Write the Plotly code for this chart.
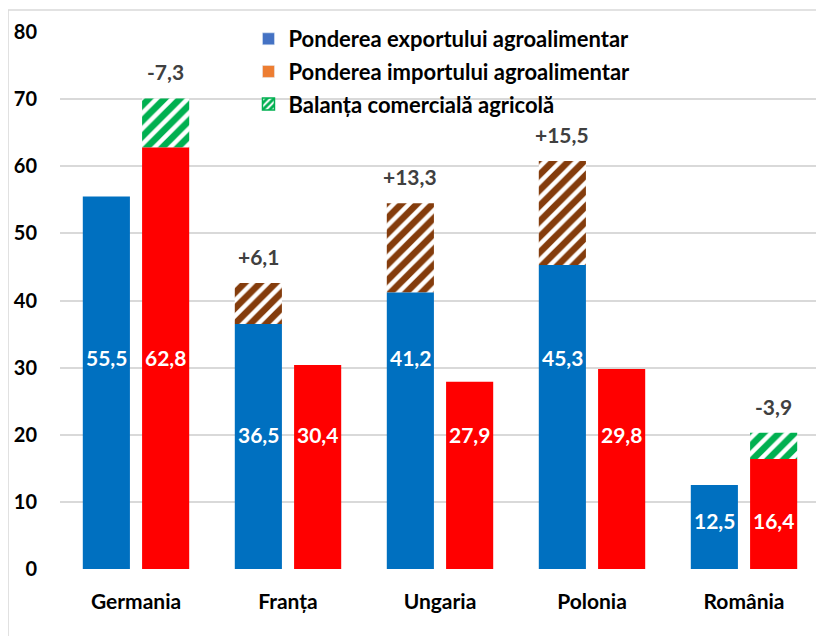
import plotly.graph_objects as go

categories = ["Germania", "Franța", "Ungaria", "Polonia", "România"]
export_share = [55.5, 36.5, 41.2, 45.3, 12.5]
import_share = [62.8, 30.4, 27.9, 29.8, 16.4]
balance = [-7.3, 6.1, 13.3, 15.5, -3.9]
y_ticks = [0, 10, 20, 30, 40, 50, 60, 70, 80]

# label heights (layout only)
export_label_y = [31.5, 20, 31.5, 31.5, 7.3]
import_label_y = [31.5, 20, 20, 20, 7.3]

BLUE = "#0070C0"
RED = "#FF0000"
GREEN = "#00B050"
BROWN = "#843C0C"
FONT = "Lato"

def fmt(v, sign=False):
    s = f"{v:+.1f}" if sign else f"{v:.1f}"
    return s.replace(".", ",")

x = list(range(len(categories)))
EXP_OFF, IMP_OFF, W = -0.35, 0.04, 0.31

fig = go.Figure()

# Balance bars (hatched): positive stacks on export, negative stacks on import
bal_x, bal_base, bal_h, bal_col, bal_off = [], [], [], [], []
for i, b in enumerate(balance):
    if b >= 0:
        bal_base.append(export_share[i]); bal_h.append(b); bal_col.append(BROWN); bal_off.append(EXP_OFF)
    else:
        bal_base.append(import_share[i]); bal_h.append(-b); bal_col.append(GREEN); bal_off.append(IMP_OFF)
    bal_x.append(i)

fig.add_trace(go.Bar(
    x=bal_x, y=bal_h, base=bal_base, offset=bal_off, width=W,
    marker=dict(color="white", line=dict(width=0),
                pattern=dict(shape="/", fgcolor=bal_col, fgopacity=1, bgcolor="white",
                             size=11, solidity=0.6)),
    showlegend=False, hoverinfo="skip"))

fig.add_trace(go.Bar(x=x, y=export_share, offset=EXP_OFF, width=W,
                     marker=dict(color=BLUE, line=dict(width=0)), showlegend=False))
fig.add_trace(go.Bar(x=x, y=import_share, offset=IMP_OFF, width=W,
                     marker=dict(color=RED, line=dict(width=0)), showlegend=False))

# Legend-only entries
fig.add_trace(go.Bar(x=[None], y=[None], name="Ponderea exportului agroalimentar",
                     marker=dict(color="#4472C4"), legendgroup="a"))
fig.add_trace(go.Bar(x=[None], y=[None], name="Ponderea importului agroalimentar",
                     marker=dict(color="#ED7D31"), legendgroup="b"))
fig.add_trace(go.Bar(x=[None], y=[None], name="Balanța comercială agricolă",
                     marker=dict(color="white", line=dict(color=GREEN, width=1.5),
                                 pattern=dict(shape="/", fgcolor=GREEN, fgopacity=1, bgcolor="white",
                                              size=6, solidity=0.6)),
                     legendgroup="c"))

LBL = dict(family=FONT, size=21, color="white", weight="bold")
annotations = []
for i in x:
    annotations.append(dict(x=i + EXP_OFF + W / 2, y=export_label_y[i], text=fmt(export_share[i]),
                            showarrow=False, font=LBL))
    annotations.append(dict(x=i + IMP_OFF + W / 2, y=import_label_y[i], text=fmt(import_share[i]),
                            showarrow=False, font=LBL))
    top = bal_base[i] + bal_h[i]
    annotations.append(dict(x=i + bal_off[i] + W / 2, y=top, yanchor="bottom", yshift=12,
                            text=fmt(balance[i], sign=True), showarrow=False,
                            font=dict(family=FONT, size=21, color="#404040", weight="bold")))

fig.update_layout(
    width=816, height=628,
    margin=dict(l=52, r=4, t=24, b=67),
    barmode="overlay",
    plot_bgcolor="white", paper_bgcolor="white",
    font=dict(family=FONT, color="black"),
    annotations=annotations,
    legend=dict(x=0.248, y=1.026, xanchor="left", yanchor="top",
                font=dict(family=FONT, size=22, color="black", weight="bold"),
                tracegroupgap=1, bgcolor="rgba(0,0,0,0)", itemwidth=30),
    shapes=[dict(type="rect", xref="paper", yref="paper",
                 x0=-0.0684, x1=1.01, y0=-0.14, y1=1.041,
                 line=dict(color="#D9D9D9", width=1.5), layer="below")],
)
fig.update_xaxes(range=[-0.5, 4.5], tickvals=x, ticktext=categories, showgrid=False,
                 zeroline=False, showline=False, ticks="", ticklabelstandoff=18,
                 tickfont=dict(family=FONT, size=21, color="black", weight="bold"))
fig.update_yaxes(range=[0, 80], tickvals=y_ticks, showgrid=True, gridcolor="#D9D9D9", gridwidth=1.5,
                 zeroline=False, showline=False, ticks="", ticklabelstandoff=22,
                 tickfont=dict(family=FONT, size=20, color="black", weight="bold"))

fig.write_html("out.html")
